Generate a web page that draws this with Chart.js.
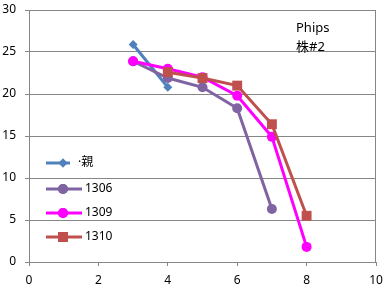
<!DOCTYPE html>
<html>
<head>
	<meta charset="utf-8">
	<title>Phips 株#2</title>
	<script src="https://cdn.jsdelivr.net/npm/chart.js@4.4.0/dist/chart.umd.min.js"></script>
	<style>
		html, body { margin: 0; padding: 0; background: #fff; }
		#wrap { width: 392px; height: 290px; }
	</style>
</head>
<body>
<div id="wrap"><canvas id="graph" width="392" height="290"></canvas></div>
<script>
	const FONT = "'Noto Sans', 'Noto Sans CJK JP', sans-serif";

	// data
	const oyaX = [3, 4];
	const oyaY = [25.9, 20.8];
	const s1306X = [3, 4, 5, 6, 7];
	const s1306Y = [23.9, 21.9, 20.8, 18.3, 6.3];
	const s1309X = [3, 4, 5, 6, 7, 8];
	const s1309Y = [23.9, 23.0, 22.0, 19.8, 14.9, 1.8];
	const s1310X = [4, 5, 6, 7, 8];
	const s1310Y = [22.6, 21.9, 21.0, 16.4, 5.5];
	const seriesNames = ['·親', '1306', '1309', '1310'];
	const xTicks = [0, 2, 4, 6, 8, 10];
	const yTicks = [0, 5, 10, 15, 20, 25, 30];
	const noteLines = ['Phips', '株#2'];

	function pts(xs, ys) {
		return xs.map((x, i) => ({ x: x, y: ys[i] }));
	}

	function series(label, data, color, style, radius, order) {
		return {
			label: label,
			data: data,
			borderColor: color,
			backgroundColor: color,
			borderWidth: 3,
			pointStyle: style,
			pointRadius: radius,
			pointHoverRadius: radius,
			pointBorderWidth: 0,
			showLine: true,
			order: order
		};
	}

	// legend inside the plot + the note text + the right/top frame
	const extras = {
		id: 'extras',
		beforeDatasetsDraw(chart) {
			const ctx = chart.ctx, a = chart.chartArea;
			ctx.save();
			ctx.strokeStyle = '#868686';
			ctx.lineWidth = 1;
			ctx.beginPath();
			ctx.moveTo(a.left, a.top + 0.5);
			ctx.lineTo(a.right - 0.5, a.top + 0.5);
			ctx.lineTo(a.right - 0.5, a.bottom);
			ctx.stroke();
			ctx.restore();
		},
		afterDraw(chart) {
			const ctx = chart.ctx;
			ctx.save();
			const rows = [163, 189, 213, 237];
			chart.data.datasets.forEach((ds, i) => {
				const y = rows[i];
				ctx.strokeStyle = ds.borderColor;
				ctx.lineWidth = 3;
				ctx.beginPath();
				ctx.moveTo(46, y);
				ctx.lineTo(i === 0 ? 70 : 82, y);
				ctx.stroke();
				ctx.fillStyle = ds.backgroundColor;
				Chart.helpers.drawPoint(ctx, { pointStyle: ds.pointStyle, radius: ds.pointRadius, borderWidth: 0 }, 63, y);
				ctx.fill();
				ctx.fillStyle = '#000';
				ctx.font = '12px ' + FONT;
				ctx.textBaseline = 'middle';
				ctx.fillText(ds.label, i === 0 ? 78 : 85, y);
			});
			ctx.font = '13px ' + FONT;
			ctx.textBaseline = 'alphabetic';
			ctx.fillStyle = '#000';
			noteLines.forEach((t, i) => ctx.fillText(t, 296, 32 + i * 19));
			ctx.restore();
		}
	};

	(function() {
		const ctx = document.getElementById('graph').getContext('2d');
		new Chart(ctx, {
			type: 'scatter',
			data: {
				datasets: [
					series(seriesNames[0], pts(oyaX, oyaY), '#4F81BD', 'rectRot', 4.5, 4),
					series(seriesNames[1], pts(s1306X, s1306Y), '#8064A2', 'circle', 5, 3),
					series(seriesNames[2], pts(s1309X, s1309Y), '#FF00FF', 'circle', 5, 2),
					series(seriesNames[3], pts(s1310X, s1310Y), '#C0504D', 'rect', 7, 1)
				]
			},
			options: {
				responsive: false,
				animation: false,
				layout: { padding: { top: 10, right: 16, left: 0, bottom: 0 } },
				plugins: {
					legend: { display: false },
					tooltip: { enabled: false }
				},
				scales: {
					x: {
						type: 'linear',
						min: 0,
						max: 10,
						afterBuildTicks: s => { s.ticks = xTicks.map(v => ({ value: v })); },
						afterFit: s => { s.height = 28; s.paddingLeft = 0; s.paddingRight = 0; },
						grid: { drawOnChartArea: false, drawTicks: true, tickLength: 4, color: '#868686' },
						border: { color: '#868686' },
						ticks: { color: '#000', padding: 7, font: { family: FONT, size: 12 } }
					},
					y: {
						min: 0,
						max: 30,
						afterBuildTicks: s => { s.ticks = yTicks.map(v => ({ value: v })); },
						afterFit: s => { s.width = 29; s.paddingTop = 0; s.paddingBottom = 0; },
						grid: { color: '#868686', tickLength: 4 },
						border: { color: '#868686' },
						ticks: { color: '#000', padding: 9, font: { family: FONT, size: 12 } }
					}
				}
			},
			plugins: [extras]
		});
	})();
</script>
</body>
</html>
